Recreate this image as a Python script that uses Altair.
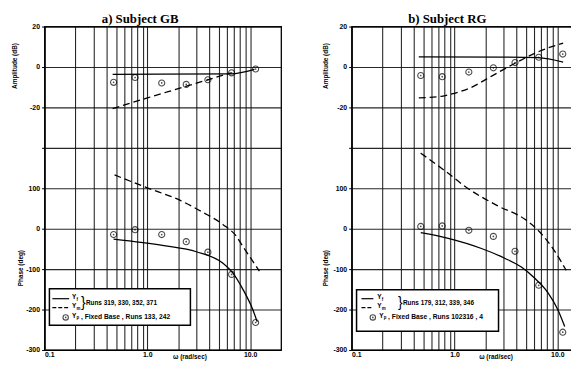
import altair as alt
import pandas as pd

# ---------------- data ----------------
# frequencies (rad/sec) of the measured fixed-base Yp points
FREQ_PTS = [0.47, 0.76, 1.38, 2.39, 3.88, 6.6, 11.3]

# a) Subject GB
GB_AMP_PTS = [-7.6, -5.2, -7.9, -8.6, -6.3, -2.9, -1.0]          # dB
GB_PHASE_PTS = [-14.5, -2.4, -14.5, -32, -58, -113, -232]       # deg
GB_YF_AMP_W = [0.46, 6.5, 11.0]
GB_YF_AMP = [-3.6, -3.4, -1.2]
GB_YM_AMP_W = [0.46, 1.0, 2.0, 4.0, 6.5]
GB_YM_AMP = [-20.6, -15.3, -10.7, -6.1, -2.9]
GB_YF_PH_W = [0.47, 1.45, 3.0, 5.4, 6.8, 8.5, 10.6, 11.7]
GB_YF_PH = [-26, -42, -57, -85, -110, -150, -200, -230]
GB_YM_PH_W = [0.48, 1.0, 2.09, 3.5, 5.46, 7.3, 8.5, 12.3]
GB_YM_PH = [133, 101, 70, 40, 10, -18, -44, -105]

# b) Subject RG
RG_AMP_PTS = [-4.2, -4.8, -2.5, -0.4, 2.2, 4.8, 6.4]
RG_PHASE_PTS = [5.6, 6.8, -4, -19, -56, -140, -256]
RG_YF_AMP_W = [0.45, 3.0, 6.5, 11.4]
RG_YF_AMP = [5.0, 4.9, 4.6, 2.4]
RG_YM_AMP_W = [0.45, 0.75, 1.0, 1.4, 2.3, 4.0, 6.7, 11.4]
RG_YM_AMP = [-15.3, -14.5, -13.0, -10.5, -4.5, 2.2, 7.8, 11.8]
RG_YF_PH_W = [0.47, 0.87, 1.83, 3.08, 4.47, 6.0, 8.1, 10.1, 11.8]
RG_YF_PH = [-10, -24, -49, -73, -95, -122, -158, -200, -242]
RG_YM_PH_W = [0.47, 0.87, 1.26, 2.66, 4.8, 6.5, 8.9, 12.2]
RG_YM_PH = [187, 137, 105, 56, 24, -4, -46, -103]

# shared vertical axis: phase units below, amplitude (dB) stacked above
Y_TICKS = [-300, -200, -100, 0, 100, 200, 300, 400, 500]
Y_TICK_LABELS = ["-300", "-200", "-100", "0", "100", "", "-20", "0", "20"]
AMP_ZERO = 400      # axis position of 0 dB
AMP_PER_DB = 5      # axis units per dB (20 dB == 100 units)

X_TICKS = [0.1, 0.2, 0.3, 0.4, 0.5, 0.6, 0.7, 0.8, 0.9,
           1, 2, 3, 4, 5, 6, 7, 8, 9, 10]
X_LABELED = {0.1: "0.1", 1: "1.0", 10: "10.0"}

FONT = "Liberation Sans"
W, H = 240, 328


def amp(vals):
    return [AMP_ZERO + AMP_PER_DB * v for v in vals]


def label_expr(values, labels):
    expr = "''"
    for v, l in zip(values, labels):
        expr = f"datum.value == {v} ? '{l}' : ({expr})"
    return expr


Y_EXPR = label_expr(Y_TICKS, Y_TICK_LABELS)
X_EXPR = label_expr(list(X_LABELED.keys()), list(X_LABELED.values()))

ONE = alt.Data(values=[{"k": 0}])


def txt(x, y, s, size=7, align="left", weight="bold", angle=0, font=FONT):
    return alt.Chart(ONE).mark_text(
        text=s, align=align, baseline="middle", fontSize=size,
        fontWeight=weight, angle=angle, font=font, color="black"
    ).encode(x=alt.value(x), y=alt.value(y))


def hline(x1, x2, y, dash=None):
    kw = dict(color="black", strokeWidth=1.2)
    if dash:
        kw["strokeDash"] = dash
    return alt.Chart(ONE).mark_rule(**kw).encode(
        x=alt.value(x1), x2=alt.value(x2), y=alt.value(y))


def panel(title, amp_pts, ph_pts, yf_aw, yf_a, ym_aw, ym_a, yf_pw, yf_p,
          ym_pw, ym_p, leg, title_x, axtitle_x):
    xs = alt.Scale(type="log", domain=[0.1, 20], nice=False)
    ys = alt.Scale(domain=[-300, 500], nice=False, zero=False)
    xax = alt.Axis(values=X_TICKS, labelExpr=X_EXPR, title="ω (rad/sec)",
                   titleX=title_x, titleY=4, titleAlign="center",
                   titleBaseline="top", labelPadding=1, ticks=False)
    yax = alt.Axis(values=Y_TICKS, labelExpr=Y_EXPR, title=None,
                   tickSize=3, labelPadding=2)

    lines = []
    for grp, ws, vs, kind in [
        ("yf_amp", yf_aw, amp(yf_a), "Yf"), ("ym_amp", ym_aw, amp(ym_a), "Ym"),
        ("yf_ph", yf_pw, yf_p, "Yf"), ("ym_ph", ym_pw, ym_p, "Ym")]:
        for w_, v_ in zip(ws, vs):
            lines.append({"w": w_, "v": v_, "grp": grp, "kind": kind})
    ldf = pd.DataFrame(lines)
    pts = pd.DataFrame({"w": FREQ_PTS * 2,
                        "v": amp(amp_pts) + list(ph_pts)})

    base_x = alt.X("w:Q", scale=xs, axis=xax)
    base_y = alt.Y("v:Q", scale=ys, axis=yax)

    solid = alt.Chart(ldf[ldf.kind == "Yf"]).mark_line(
        color="black", strokeWidth=1.3, interpolate="monotone"
    ).encode(x=base_x, y=base_y, detail="grp:N")
    dashed = alt.Chart(ldf[ldf.kind == "Ym"]).mark_line(
        color="black", strokeWidth=1.3, interpolate="monotone",
        strokeDash=[7, 4]
    ).encode(x=base_x, y=base_y, detail="grp:N")
    circ = alt.Chart(pts).mark_point(
        shape="circle", filled=False, color="black", size=38, strokeWidth=1.1
    ).encode(x=base_x, y=base_y)
    dots = alt.Chart(pts).mark_point(
        shape="circle", filled=True, color="black", size=3
    ).encode(x=base_x, y=base_y)

    # custom legend box
    bx1, bx2, by1, by2 = leg["box"]
    box = alt.Chart(ONE).mark_rect(
        fill="white", stroke="black", strokeWidth=1.5
    ).encode(x=alt.value(bx1), x2=alt.value(bx2),
             y=alt.value(by1), y2=alt.value(by2))
    lx1, lx2, ty = leg["line"][0], leg["line"][1], leg["ytext"]
    r1, r2, r3 = leg["rows"]
    legend = [
        box,
        hline(lx1, lx2, r1),
        hline(lx1, lx2, r2, dash=[4, 2]),
        txt(ty, r1 - 1.5, "Y", 6.5), txt(ty + 4.5, r1 + 1, "f", 4.5),
        txt(ty, r2 - 1.5, "Y", 6.5), txt(ty + 4.5, r2 + 1, "m", 4.5),
        txt(leg["brace"], (r1 + r2) / 2, "}", 14, weight="normal"),
        txt(leg["brace"] + 5, (r1 + r2) / 2, leg["runs"], 6.5),
        alt.Chart(ONE).mark_point(shape="circle", filled=False, color="black",
                                  size=30, strokeWidth=1.1)
        .encode(x=alt.value(leg["circ"]), y=alt.value(r3)),
        alt.Chart(ONE).mark_point(shape="circle", filled=True, color="black",
                                  size=3)
        .encode(x=alt.value(leg["circ"]), y=alt.value(r3)),
        txt(leg["ytext3"], r3 - 1.5, "Y", 6.5),
        txt(leg["ytext3"] + 4.5, r3 + 1, "p", 4.5),
        txt(leg["ytext3"] + 9, r3, leg["fixed"], 6.8),
    ]

    titles = [
        txt(97, -8, title, 13, align="center", font="Liberation Serif"),
        txt(axtitle_x[0], 40, "Amplitude (dB)", 6.5, align="center", angle=270),
        txt(axtitle_x[1], 245, "Phase (deg)", 6.5, align="center", angle=270),
    ]

    return alt.layer(solid, dashed, circ, dots, *legend, *titles).properties(
        width=W, height=H)


left = panel(
    "a) Subject GB", GB_AMP_PTS, GB_PHASE_PTS, GB_YF_AMP_W, GB_YF_AMP,
    GB_YM_AMP_W, GB_YM_AMP, GB_YF_PH_W, GB_YF_PH, GB_YM_PH_W, GB_YM_PH,
    dict(box=(5, 148, 266, 303), line=(8, 25), ytext=28, rows=(276, 285, 295),
         brace=37, runs="Runs 319, 330, 352, 371", circ=21.5, ytext3=28,
         fixed=", Fixed Base , Runs 133, 242"),
    title_x=147, axtitle_x=(-30, -24))

right = panel(
    "b) Subject RG", RG_AMP_PTS, RG_PHASE_PTS, RG_YF_AMP_W, RG_YF_AMP,
    RG_YM_AMP_W, RG_YM_AMP, RG_YF_PH_W, RG_YF_PH, RG_YM_PH_W, RG_YM_PH,
    dict(box=(5, 149, 267, 309), line=(10, 22), ytext=26, rows=(276, 285, 295),
         brace=47, runs="Runs 179, 312, 339, 346", circ=21.5, ytext3=28,
         fixed=", Fixed Base , Runs 102316 , 4"),
    title_x=146, axtitle_x=(-26, -26))

PAD_L, PAD_T = 37, 14
SVG_W, SVG_H = 571, 352

chart = alt.hconcat(left, right, spacing=40.5).properties(
    autosize=alt.AutoSizeParams(type="none"),
    padding={"left": PAD_L, "top": PAD_T,
             "right": SVG_W - PAD_L, "bottom": SVG_H - PAD_T},
).configure_view(
    stroke="black", strokeWidth=1.3
).configure_axis(
    grid=True, gridColor="#111111", gridWidth=1.1, gridOpacity=0.9,
    domainColor="black", domainWidth=1.2, tickColor="black",
    labelFont=FONT, labelFontSize=7, labelFontWeight="bold",
    labelColor="black", titleFont=FONT, titleFontSize=6.5,
    titleFontWeight="bold", titleColor="black"
)

chart.save("out.html", embed_options={"renderer": "svg", "actions": False})
